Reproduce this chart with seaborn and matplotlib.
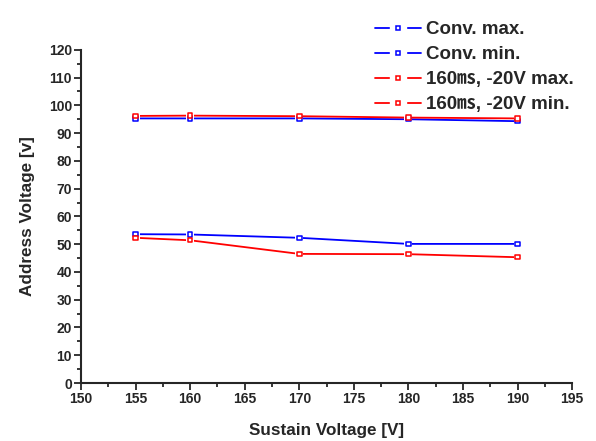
"""
Address voltage vs sustain voltage, conventional vs 160ms / -20V
"""

import numpy as np
import pandas as pd
import matplotlib
matplotlib.use("Agg")
import matplotlib.pyplot as plt
from matplotlib.lines import Line2D
from matplotlib.ticker import MultipleLocator
import seaborn as sns

sustain = [155, 160, 170, 180, 190]
conv_max = [95.3, 95.3, 95.3, 95.0, 94.3]
conv_min = [53.6, 53.5, 52.3, 50.1, 50.1]
new_max = [96.2, 96.3, 96.1, 95.6, 95.3]
new_min = [52.3, 51.4, 46.5, 46.4, 45.3]

labels = ["Conv. max.", "Conv. min.", "160\u33b3, -20V max.", "160\u33b3, -20V min."]
colors = ["#0000ff", "#0000ff", "#ff0000", "#ff0000"]

df = pd.DataFrame({
    "Sustain": sustain * 4,
    "Address": conv_max + conv_min + new_max + new_min,
    "Series": np.repeat(labels, len(sustain)),
})

sns.set_style("ticks")
plt.rcParams["font.family"] = ["Liberation Sans", "Noto Sans CJK SC", "DejaVu Sans"]
plt.rcParams["font.weight"] = "bold"

fig = plt.figure(figsize=(5.96, 4.41), dpi=100)
ax = fig.add_axes([0.136, 0.1315, 0.824, 0.7555])

pal = dict(zip(labels, colors))
sns.lineplot(data=df, x="Sustain", y="Address", hue="Series", palette=pal,
             linewidth=1.3, errorbar=None, legend=False, ax=ax)
# white squares make the little gaps between line and marker
n0 = len(ax.collections)
sns.scatterplot(data=df, x="Sustain", y="Address", color="white", marker="s",
                s=36, linewidth=0, legend=False, ax=ax, zorder=3)
sns.scatterplot(data=df, x="Sustain", y="Address", hue="Series", palette=pal,
                marker="s", s=10, legend=False, ax=ax, zorder=4)
pts = ax.collections[n0 + 1]
pts.set_facecolor("white")
pts.set_linewidth(1.1)
pts.set_edgecolor([pal[s] for s in df["Series"]])

ax.set_xlim(150, 195)
ax.set_ylim(0, 120)
ax.xaxis.set_major_locator(MultipleLocator(5))
ax.xaxis.set_minor_locator(MultipleLocator(2.5))
ax.yaxis.set_major_locator(MultipleLocator(10))
ax.yaxis.set_minor_locator(MultipleLocator(5))
ax.tick_params(which="major", length=5, width=1.3, labelsize=10, pad=1.5)
ax.tick_params(which="minor", length=3, width=1.3)
for lab in ax.get_xticklabels() + ax.get_yticklabels():
    lab.set_fontweight("bold")
sns.despine(ax=ax)
ax.spines["left"].set_linewidth(1.5)
ax.spines["bottom"].set_linewidth(1.5)

ax.set_xlabel("Sustain Voltage [V]", fontsize=12.3, fontweight="bold", labelpad=12)
ax.set_ylabel("Address Voltage [v]", fontsize=12.3, fontweight="bold", labelpad=10)

handles = []
for c in colors:
    handles.append((
        Line2D([], [], color=c, linewidth=1.3),
        Line2D([], [], color="white", marker="s", markersize=11, linestyle="none"),
        Line2D([], [], color=c, marker="s", markersize=3.2, markerfacecolor="white",
               markeredgewidth=1.1, linestyle="none"),
    ))
fig.legend(handles, labels, loc="upper left", bbox_to_anchor=(0.629, 0.952),
           frameon=False, handlelength=2.45, handletextpad=0.3,
           labelspacing=0.42, borderpad=0, borderaxespad=0,
           prop={"weight": "bold", "size": 13.5})

fig.savefig("out.png", dpi=100)
